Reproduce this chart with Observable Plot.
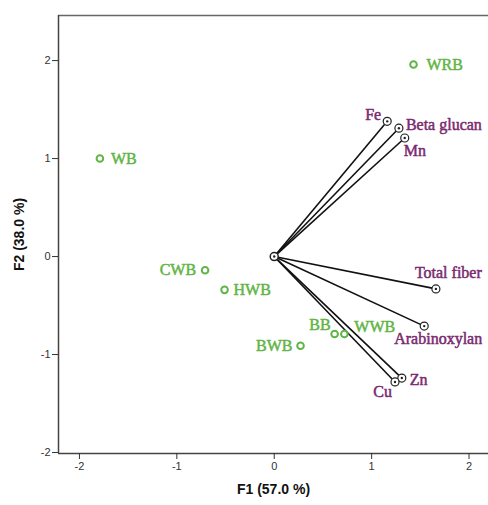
<!DOCTYPE html>
<html>
<head>
<meta charset="utf-8">
<script src="https://cdn.jsdelivr.net/npm/d3@7"></script>
<script src="https://cdn.jsdelivr.net/npm/@observablehq/plot@0.6"></script>
<style>
  html, body { margin: 0; padding: 0; background: #fff; }
  #chart svg { display: block; }
</style>
</head>
<body>
<div id="chart"></div>
<script>
// Sample (observation) scores
const sampleNames = ["WRB", "WB", "CWB", "HWB", "BB", "WWB", "BWB"];
const sampleF1 = [1.43, -1.79, -0.71, -0.51, 0.62, 0.72, 0.27];
const sampleF2 = [1.96, 1.00, -0.14, -0.34, -0.79, -0.79, -0.91];

// Variable loadings (vectors)
const varNames = ["Fe", "Beta glucan", "Mn", "Total fiber", "Arabinoxylan", "Zn", "Cu"];
const varF1 = [1.16, 1.28, 1.34, 1.66, 1.54, 1.31, 1.24];
const varF2 = [1.38, 1.31, 1.21, -0.33, -0.71, -1.24, -1.28];

// Axis ticks and labels
const xTicks = [-2, -1, 0, 1, 2];
const yTicks = [-2, -1, 0, 1, 2];
const xLabel = "F1 (57.0 %)";
const yLabel = "F2 (38.0 %)";
const xDomain = [-2.215, 2.2];
const yDomain = [-2.01, 2.46];

const samples = sampleNames.map((n, i) => ({name: n, x: sampleF1[i], y: sampleF2[i]}));
const vars = varNames.map((n, i) => ({name: n, x: varF1[i], y: varF2[i]}));
const origin = [{x: 0, y: 0}];

// label placement styles
const sampleLabelStyle = {
  WRB: {dx: 13, dy: 0, a: "start"},
  WB: {dx: 11, dy: 0, a: "start"},
  CWB: {dx: -9, dy: 0, a: "end"},
  HWB: {dx: 9, dy: 0, a: "start"},
  BB: {dx: -4, dy: -9, a: "end"},
  WWB: {dx: 10, dy: -7, a: "start"},
  BWB: {dx: -8, dy: 0, a: "end"}
};
const varLabelStyle = {
  "Fe": {dx: -6, dy: -6, a: "end"},
  "Beta glucan": {dx: 7, dy: -3, a: "start"},
  "Mn": {dx: -1, dy: 13, a: "start"},
  "Total fiber": {dx: -21, dy: -16, a: "start"},
  "Arabinoxylan": {dx: -30, dy: 13, a: "start"},
  "Zn": {dx: 8, dy: 2, a: "start"},
  "Cu": {dx: -3, dy: 10, a: "end"}
};

const green = "#5fb545";
const purple = "#7a2a6f";
const serif = "'Liberation Serif', 'Times New Roman', serif";

const labelMarks = (data, styles, fill) => data.map(d => {
  const s = styles[d.name];
  return Plot.text([d], {
    x: "x", y: "y", text: "name", dx: s.dx, dy: s.dy, textAnchor: s.a,
    fill, fontFamily: serif, fontSize: 16, stroke: fill, strokeWidth: 0.5
  });
});

const chart = Plot.plot({
  width: 488,
  height: 505,
  marginLeft: 58,
  marginTop: 15,
  marginBottom: 52,
  marginRight: 0,
  style: {fontFamily: "Arial, 'Liberation Sans', sans-serif", fontSize: "11px", color: "#333", background: "#fff"},
  x: {domain: xDomain},
  y: {domain: yDomain},
  marks: [
    Plot.ruleY([yDomain[1]], {stroke: "#666", strokeWidth: 1.5}),
    Plot.ruleX([xDomain[0]], {stroke: "#444", strokeWidth: 1.5}),
    Plot.ruleY([yDomain[0]], {stroke: "#444", strokeWidth: 1.5}),
    Plot.axisX({ticks: xTicks, tickFormat: d => String(d), tickSize: 6, tickPadding: 3, label: xLabel, labelAnchor: "center", labelArrow: "none", labelOffset: 40, fontSize: 11}),
    Plot.axisY({ticks: yTicks, tickFormat: d => String(d), tickSize: 6, tickPadding: 2, label: yLabel, labelAnchor: "center", labelArrow: "none", labelOffset: 44, fontSize: 11}),
    Plot.link(vars, {x1: 0, y1: 0, x2: "x", y2: "y", stroke: "#111", strokeWidth: 1.6}),
    Plot.dot(vars, {x: "x", y: "y", r: 4, stroke: "#222", fill: "white", strokeWidth: 1.2}),
    Plot.dot(vars, {x: "x", y: "y", r: 1.2, fill: "#222"}),
    Plot.dot(origin, {x: "x", y: "y", r: 4, stroke: "#222", fill: "white", strokeWidth: 1.5}),
    Plot.dot(origin, {x: "x", y: "y", r: 1.2, fill: "#222"}),
    Plot.dot(samples, {x: "x", y: "y", r: 3.3, stroke: green, strokeWidth: 2, fill: "none"}),
    ...labelMarks(samples, sampleLabelStyle, green),
    ...labelMarks(vars, varLabelStyle, purple)
  ]
});

// style axis labels bold & larger
chart.querySelectorAll('g[aria-label="x-axis label"] text, g[aria-label="y-axis label"] text').forEach(t => {
  t.setAttribute("font-weight", "bold");
  t.setAttribute("font-size", "14");
  t.setAttribute("fill", "#111");
});
document.getElementById("chart").appendChild(chart);
</script>
</body>
</html>
